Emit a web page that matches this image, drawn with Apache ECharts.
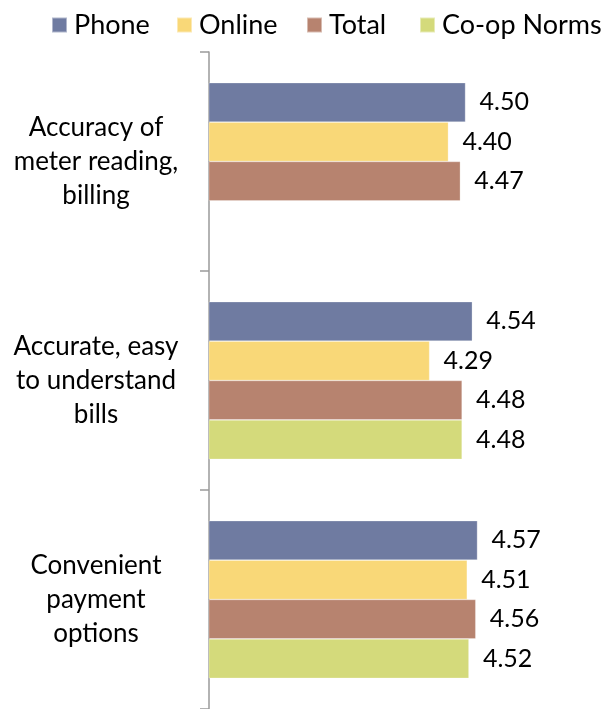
<!DOCTYPE html>
<html>
<head>
<meta charset="utf-8">
<style>
  html, body { margin: 0; padding: 0; background: #ffffff; }
  #chart { width: 608px; height: 709px; }
</style>
<script src="https://cdn.jsdelivr.net/npm/echarts@6/dist/echarts.min.js"></script>
</head>
<body>
<div id="chart"></div>
<script>
// Survey ratings by billing attribute
const categories = [
  'Accuracy of\nmeter reading,\nbilling',
  'Accurate, easy\nto understand\nbills',
  'Convenient\npayment\noptions'
];
const seriesNames = ['Phone', 'Online', 'Total', 'Co-op Norms'];
const phone  = [4.50, 4.54, 4.57];
const online = [4.40, 4.29, 4.51];
const total  = [4.47, 4.48, 4.56];
const coopNorms = [null, 4.48, 4.52];

const colors = ['#6F7BA1', '#F9D878', '#B7836F', '#D4DA7B'];
const values = [phone, online, total, coopNorms];
const FONT = 'Lato, "Open Sans", sans-serif';

const chart = echarts.init(document.getElementById('chart'), null, { renderer: 'canvas' });

const legendLefts = [46, 171, 301, 414];

chart.setOption({
  animation: false,
  backgroundColor: '#ffffff',
  color: colors,
  legend: seriesNames.map((name, i) => ({
    data: [name],
    left: legendLefts[i],
    top: 5,
    icon: 'rect',
    itemWidth: 15,
    itemHeight: 15,
    selectedMode: false,
    textStyle: {
      fontFamily: FONT,
      fontSize: 27,
      lineHeight: 30,
      color: '#000000',
      padding: [0, 0, 0, 2]
    }
  })),
  grid: {
    left: 209,
    top: 52,
    width: 342,
    height: 659,
    containLabel: false
  },
  xAxis: {
    type: 'value',
    min: 3,
    max: 5,
    show: false
  },
  yAxis: {
    type: 'category',
    inverse: true,
    data: categories,
    axisLine: { show: true, lineStyle: { color: '#9A9A9A', width: 1.5 } },
    axisTick: { show: true, length: 9, lineStyle: { color: '#9A9A9A', width: 1.5 } },
    axisLabel: {
      fontFamily: FONT,
      fontSize: 26,
      lineHeight: 34,
      color: '#000000',
      align: 'center',
      margin: 113
    },
    splitLine: { show: false }
  },
  series: seriesNames.map((name, i) => ({
    name: name,
    type: 'bar',
    data: values[i],
    barGap: '0%',
    barCategoryGap: '28%',
    itemStyle: {
      color: colors[i],
      borderColor: 'rgba(255,255,255,0.45)',
      borderWidth: 0.6
    },
    label: {
      show: true,
      position: 'right',
      distance: 14,
      fontFamily: FONT,
      fontSize: 25,
      color: '#000000',
      formatter: p => (p.value == null ? '' : Number(p.value).toFixed(2))
    }
  }))
});
</script>
</body>
</html>
